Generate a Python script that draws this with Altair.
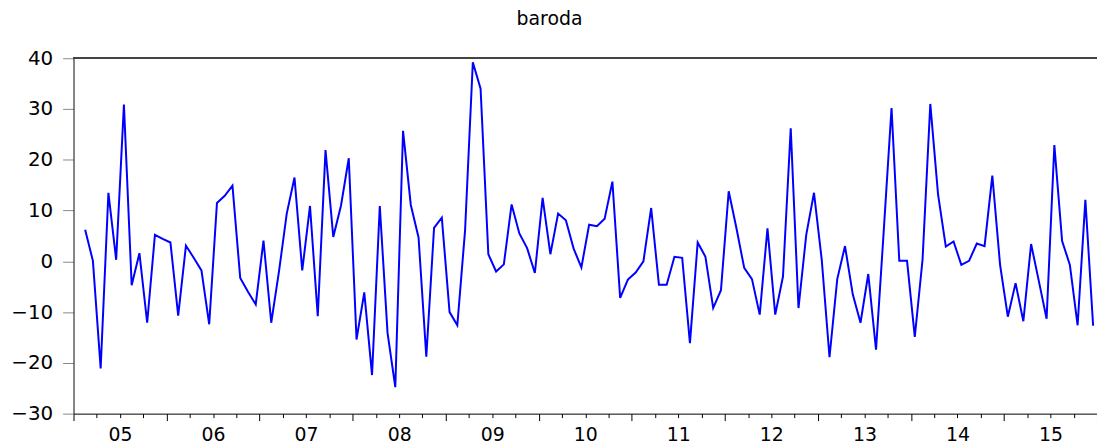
import altair as alt
import pandas as pd

# Monthly series 2005M02 .. 2015M12
start_year = 2005
start_month = 2
values = [
    6.2, 0.1, -21.1, 13.5, 0.3, 30.9, -4.7, 1.6, -12.1, 5.2, 4.4, 3.7,
    -10.7, 3.1, 0.7, -1.8, -12.4, 11.5, 12.9, 14.9, -3.3, -6.0, -8.5, 4.1,
    -12.1, -2.0, 9.4, 16.5, -1.8, 10.9, -10.8, 21.9, 4.8, 11.0, 20.3, -15.4,
    -6.1, -22.4, 10.9, -14.1, -24.8, 25.7, 11.1, 4.7, -18.8, 6.6, 8.6, -10.0,
    -12.6, 6.1, 39.2, 34.0, 1.4, -2.0, -0.6, 11.2, 5.5, 2.6, -2.3, 12.5,
    1.4, 9.4, 8.1, 2.5, -1.2, 7.2, 6.9, 8.4, 15.7, -7.2, -3.6, -2.2,
    0.0, 10.5, -4.6, -4.6, 0.9, 0.7, -16.1, 3.7, 0.9, -9.2, -5.7, 13.8,
    6.5, -1.3, -3.5, -10.5, 6.5, -10.5, -3.0, 26.2, -9.2, 5.2, 13.5, 0.3,
    -18.9, -3.5, 3.0, -6.5, -12.1, -2.5, -17.4, 6.1, 30.2, 0.1, 0.1, -14.9,
    0.3, 31.0, 13.2, 2.9, 3.9, -0.7, 0.1, 3.5, 3.0, 16.9, -0.7, -10.9,
    -4.3, -11.8, 3.4, -3.9, -11.3, 22.9, 4.0, -0.7, -12.6, 12.1, -12.7,
]
year_labels = ["05", "06", "07", "08", "09", "10", "11", "12", "13", "14", "15"]
y_ticks = [-30, -20, -10, 0, 10, 20, 30, 40]

periods = pd.period_range(f"{start_year}-{start_month:02d}", periods=len(values), freq="M")
df = pd.DataFrame({
    "period": periods.astype(str),
    "t": [(p.year - start_year) * 12 + (p.month - 1) + 0.5 for p in periods],
    "value": values,
})

n_months = len(year_labels) * 12
quarter_ticks = list(range(0, n_months + 1, 3))
label_array = "[" + ",".join(f"'{s}'" for s in year_labels) + "]"
label_expr = f"datum.value % 12 == 6 ? {label_array}[floor(datum.value / 12)] : ''"

FONT = "DejaVu Sans"
FS = 20
W, H = 1031, 358

x_scale = alt.Scale(domain=[0, n_months], nice=False, zero=False)
y_scale = alt.Scale(domain=[-30, 40], nice=False, zero=False)

line = alt.Chart(df).mark_line(color="#0000FF", strokeWidth=2).encode(
    x=alt.X("t:Q", scale=x_scale, axis=alt.Axis(
        title=None, values=quarter_ticks, labelExpr=label_expr,
        grid=False, domainColor="#000000", domainWidth=1,
        tickColor="#000000", tickWidth=1,
        tickSize={"condition": {"test": "datum.value % 12 === 0", "value": 7}, "value": 4},
        labelFont=FONT, labelFontSize=19, labelColor="#000000",
        labelPadding=8, labelOverlap=False, labelFlush=False, labelBound=False,
    )),
    y=alt.Y("value:Q", scale=y_scale, axis=alt.Axis(
        title=None, values=y_ticks, grid=False,
        domainColor="#333333", domainWidth=1.2,
        tickColor="#888888", tickWidth=1, tickSize=11,
        labelFont=FONT, labelFontSize=FS, labelColor="#000000",
        labelPadding=10, labelBaseline="middle", labelFlush=False,
    )),
)

top_frame = alt.Chart(df).mark_rule(color="#444444", strokeWidth=1.2).encode(
    x=alt.value(0), x2=alt.value(W), y=alt.value(0),
)

chart = alt.layer(line, top_frame).properties(
    width=W,
    height=H,
    padding={"left": 66, "top": 49, "right": 0, "bottom": 31},
    autosize=alt.AutoSizeParams(type="none"),
    title=alt.Title("baroda", font=FONT, fontSize=19, fontWeight="normal",
                    color="#000000", offset=19, dx=-36),
).configure_view(stroke=None)

chart.save("out.html", embed_options={"renderer": "svg", "actions": False})
